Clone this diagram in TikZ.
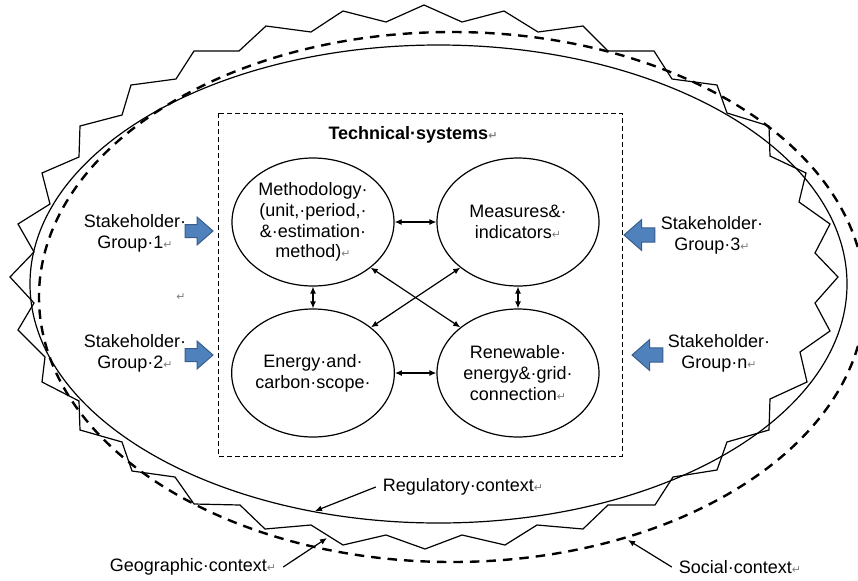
\documentclass[tikz,border=0pt]{standalone}
\usepackage{fontspec}
\setmainfont{Liberation Sans}
\newfontfamily\markfont{DejaVu Sans}
\usetikzlibrary{arrows.meta,shapes.geometric}
\definecolor{ArrowBlue}{RGB}{79,129,189}
\definecolor{ArrowEdge}{RGB}{56,93,138}
\newcommand{\ret}{{\markfont\color{gray}\fontsize{5.5}{6}\selectfont ↵}}

\begin{document}
\begin{tikzpicture}[x=.5pt,y=-.5pt,>={Latex[length=3.5pt,width=3pt]},
  font=\fontsize{9}{10.4}\selectfont,
  part/.style={ellipse,draw,line width=.6pt,minimum width=81pt,minimum height=64pt,inner sep=0pt,align=center},
  who/.style={align=center},
  link/.style={<->,line width=.6pt},
  pointer/.style={->,line width=.6pt}]
\useasboundingbox (0,0) rectangle (858,580);
% contexts
\draw[line width=.6pt] (424,5)--(462,22)--(504,11)--(538,32)--(583,26)--(608,51)--(654,51)--(672,79)
  --(717,85)--(727,113)--(769,126)--(770,156)--(806,173)--(799,202)--(830,224)--(815,253)--(838,277)
  --(815,303)--(830,331)--(800,352)--(807,382)--(770,399)--(769,430)--(727,442)--(717,470)--(673,477)
  --(655,505)--(608,505)--(583,529)--(537,525)--(505,545)--(462,535)--(425,549)--(386,535)--(343,545)
  --(311,525)--(265,529)--(240,505)--(194,504)--(175,477)--(132,471)--(122,442)--(80,430)--(79,401)
  --(42,382)--(45,357)--(18,330)--(34,303)--(10,277)--(34,252)--(18,224)--(50,204)--(42,173)--(79,157)
  --(80,126)--(122,115)--(131,85)--(176,79)--(194,51)--(239,51)--(266,26)--(311,32)--(343,11)--(386,22)--cycle;
\draw[line width=1.2pt,dash pattern=on 4.75pt off 3.5pt] (452,297) ellipse [x radius=413,y radius=265];
\draw[line width=.6pt] (438.5,284) ellipse [x radius=408.5,y radius=239];
% technical systems
\draw[line width=.5pt,dash pattern=on 2.5pt off 1.5pt] (218,113) rectangle (622,456);
\node[font=\fontsize{9}{10.4}\selectfont\bfseries] (tech) at (413,135) {Technical·systems\ret};
\node[part] (meth) at (313,222) {Methodology·\\(unit,·period,·\\\&·estimation·\\method)\ret};
\node[part] (meas) at (518,222) {Measures\&·\\indicators\ret};
\node[part] (energy) at (313,373) {Energy·and·\\carbon·scope·};
\node[part] (renew) at (518,373) {Renewable·\\energy\&·grid·\\connection\ret};
\draw[link] (meth) -- (meas);
\draw[link] (energy) -- (renew);
\draw[link] (meth) -- (energy);
\draw[link] (meas) -- (renew);
\draw[link] (meth.south east) -- (renew.north west);
\draw[link] (meas.south west) -- (energy.north east);
% stakeholders
\node[who] (sh1) at (135,233) {Stakeholder·\\Group·1\ret};
\node[who] (sh2) at (135,353) {Stakeholder·\\Group·2\ret};
\node[who] (sh3) at (712,235) {Stakeholder·\\Group·3\ret};
\node[who] (shn) at (719,353) {Stakeholder·\\Group·n\ret};
\node (blank) at (181,297) {\ret};
\foreach \x/\y/\s in {213/231/1,213/355/1,624/235/-1.1,632/355/-1.1}
  \draw[ArrowEdge,fill=ArrowBlue,line width=.5pt,shift={(\x,\y)},scale=\s]
    (0,0)--(-16,-14)--(-16,-6.5)--(-28,-6.5)--(-28,6.5)--(-16,6.5)--(-16,14)--cycle;
% context labels
\node (reg) at (463,487) {Regulatory·context\ret};
\node (geo) at (193,567) {Geographic·context\ret};
\node (soc) at (740,567) {Social·context\ret};
\coordinate (regtip) at (315,511);
\coordinate (geotip) at (327,538);
\coordinate (soctip) at (628,540);
\draw[pointer] (reg.west) -- (regtip);
\draw[pointer] (geo.east) -- (geotip);
\draw[pointer] (soc.west) -- (soctip);
\end{tikzpicture}
\end{document}
